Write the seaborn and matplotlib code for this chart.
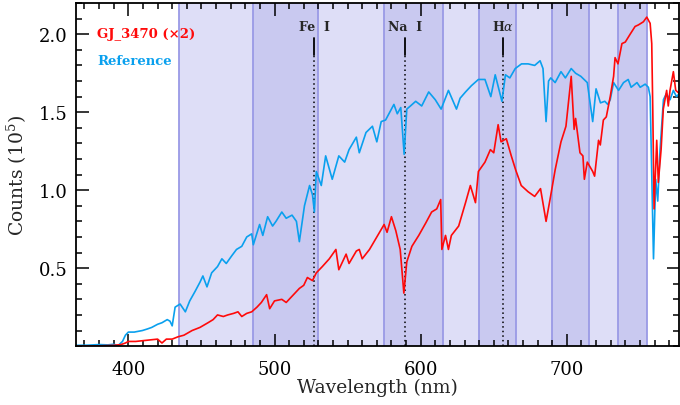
import matplotlib
matplotlib.use("Agg")
import matplotlib.pyplot as plt
from matplotlib.ticker import MultipleLocator
import pandas as pd
import seaborn as sns

# Reference spectrum (counts in units of 1e5)
ref_wl = [364, 372, 380, 386, 390, 393, 396, 398, 400, 404, 409.6, 413, 416, 420, 423,
          426.6, 428.5, 430, 432, 435.4, 439, 442, 445.6, 449, 451, 453.8, 457, 461, 464,
          467, 470.8, 474, 477.6, 481, 484.4, 485.5, 489.8, 492, 495.3, 498.7, 501, 505,
          508, 512, 515, 517, 520.5, 524, 526, 527.3, 528.6, 532, 535, 539.5, 544, 548,
          551, 556, 558, 562.6, 567, 570, 573, 576, 581.7, 584, 586.4, 588.7, 590.5, 593,
          596.6, 600.7, 605.5, 610, 614, 619, 624.5, 627, 630.7, 634.7, 639.5, 644, 648,
          651, 655.6, 658, 661, 664.7, 669, 673.5, 678, 681.7, 683.7, 685.8, 687.5, 689,
          692, 696, 699, 703, 706, 709.6, 714, 717.7, 720, 723, 726, 728, 729.7, 732,
          735.4, 738.8, 742, 744, 748, 750.2, 753.6, 755.8, 757, 759.3, 760.8, 762.2,
          763.8, 766.1, 768.1, 770.6, 772.9, 775, 777]
ref_counts = [0.005, 0.006, 0.01, 0.008, 0.012, 0.004, 0.03, 0.07, 0.09, 0.09, 0.10, 0.11,
              0.12, 0.14, 0.15, 0.17, 0.16, 0.13, 0.25, 0.27, 0.22, 0.29, 0.35, 0.41, 0.45,
              0.38, 0.47, 0.51, 0.56, 0.53, 0.58, 0.62, 0.64, 0.70, 0.72, 0.65, 0.78, 0.71,
              0.83, 0.77, 0.80, 0.86, 0.82, 0.84, 0.80, 0.67, 0.90, 1.03, 0.97, 0.86, 1.12,
              1.03, 1.22, 1.07, 1.22, 1.18, 1.26, 1.34, 1.24, 1.37, 1.41, 1.31, 1.44, 1.45,
              1.55, 1.49, 1.53, 1.23, 1.52, 1.54, 1.57, 1.54, 1.63, 1.58, 1.52, 1.64, 1.52,
              1.59, 1.63, 1.67, 1.71, 1.71, 1.60, 1.74, 1.57, 1.74, 1.72, 1.78, 1.81, 1.81,
              1.80, 1.83, 1.78, 1.44, 1.70, 1.72, 1.69, 1.76, 1.72, 1.78, 1.75, 1.73, 1.69,
              1.44, 1.65, 1.56, 1.57, 1.55, 1.58, 1.69, 1.64, 1.69, 1.71, 1.66, 1.69, 1.66,
              1.68, 1.66, 1.60, 0.56, 1.07, 0.93, 1.26, 1.58, 1.62, 1.58, 1.64, 1.60, 1.62]

# GJ_3470 spectrum, scaled x2
gj_wl = [364, 380, 390, 395, 398, 400, 405, 410, 415, 420, 423, 426, 430, 434, 438,
         443.6, 449, 454.5, 458, 461, 465, 468, 472, 475, 477.6, 481, 484.4, 488, 491,
         494.6, 496.7, 500, 505, 508, 512, 517, 520, 522.5, 526, 528.6, 532.7, 537.5,
         542, 544, 549, 551, 556, 558, 560, 565, 570, 575, 577, 580, 583, 586, 588.5,
         590.5, 594, 598.7, 603.5, 607.5, 611, 613.7, 614.5, 617, 619, 621, 626, 630.7,
         634, 637.5, 639.5, 644, 647.7, 650, 653, 655, 658.6, 662, 665, 668.8, 673.5,
         678, 682, 685.8, 688.5, 692, 696, 699.4, 703, 705, 706, 709, 711, 712, 714,
         717.7, 719, 721.7, 722.9, 725, 727, 729.7, 732, 733, 735, 737.7, 740, 743.3,
         746.7, 749, 752.4, 754.7, 757, 758.1, 758.8, 759.7, 761.5, 762.6, 764.5, 766,
         768.3, 769.4, 770.6, 772.9, 774.5, 777]
gj_counts = [0.0, 0.002, 0.005, 0.01, 0.02, 0.03, 0.03, 0.035, 0.04, 0.045, 0.02, 0.045,
             0.045, 0.06, 0.07, 0.10, 0.12, 0.15, 0.17, 0.20, 0.19, 0.20, 0.21, 0.22, 0.19,
             0.21, 0.22, 0.25, 0.28, 0.33, 0.24, 0.29, 0.30, 0.28, 0.32, 0.37, 0.39, 0.44,
             0.42, 0.47, 0.51, 0.56, 0.62, 0.49, 0.59, 0.53, 0.61, 0.62, 0.56, 0.62, 0.70,
             0.78, 0.73, 0.83, 0.74, 0.62, 0.34, 0.54, 0.64, 0.71, 0.79, 0.86, 0.88, 0.94,
             0.62, 0.71, 0.62, 0.71, 0.77, 0.92, 1.03, 0.92, 1.12, 1.18, 1.26, 1.24, 1.42,
             1.31, 1.33, 1.22, 1.13, 1.03, 0.99, 0.96, 1.01, 0.80, 0.94, 1.13, 1.31, 1.41,
             1.73, 1.39, 1.46, 1.24, 1.22, 1.07, 1.18, 1.12, 1.09, 1.32, 1.29, 1.45, 1.47,
             1.60, 1.73, 1.85, 1.81, 1.94, 1.95, 2.00, 2.05, 2.06, 2.08, 2.11, 2.07, 1.94,
             1.52, 0.88, 1.32, 1.05, 1.26, 1.52, 1.64, 1.54, 1.64, 1.76, 1.64, 1.62]

# filter bands (alternating shades) and line markers
band_edges = [435, 485, 530, 575, 615, 640, 665, 690, 715, 735, 755]
line_wl = [527.0, 589.0, 656.3]
line_labels = ["Fe  I", "Na  I", r"H$\alpha$"]

sns.set_style("ticks")
plt.rcParams["font.family"] = ["DejaVu Serif"]
plt.rcParams["mathtext.fontset"] = "dejavuserif"

fig = plt.figure(figsize=(6.8, 4.06), dpi=100)
ax = fig.add_axes([0.112, 0.145, 0.886, 0.845])

ymax = 2.2
light, dark, edge = "#dedef7", "#c9c9f0", "#9a9ae6"
for i in range(len(band_edges) - 1):
    ax.axvspan(band_edges[i], band_edges[i + 1], color=light if i % 2 == 0 else dark,
               lw=0, zorder=0)
for e in band_edges:
    ax.axvline(e, color=edge, lw=1.3, zorder=0.5)

for w, lab in zip(line_wl, line_labels):
    ax.axvline(w, ymin=0, ymax=1.868 / ymax, color="black", lw=1.1,
               ls=(0, (1, 2)), zorder=1)
    ax.axvline(w, ymin=1.868 / ymax, ymax=1.977 / ymax, color="black", lw=1.3, zorder=1)
    ax.text(w, 2.052, lab, ha="center", va="center", fontsize=9, fontweight="bold")

ref = pd.DataFrame({"wl": ref_wl, "counts": ref_counts})
gj = pd.DataFrame({"wl": gj_wl, "counts": gj_counts})
sns.lineplot(data=ref, x="wl", y="counts", color="#0aa0ee", lw=1.2, ax=ax, zorder=3)
sns.lineplot(data=gj, x="wl", y="counts", color="#ff0a0a", lw=1.2, ax=ax, zorder=4)

ax.set_xlim(364.3, 776.5)
ax.set_ylim(0, ymax)
ax.xaxis.set_major_locator(MultipleLocator(100))
ax.xaxis.set_minor_locator(MultipleLocator(10))
ax.set_yticks([0.5, 1.0, 1.5, 2.0])
ax.set_yticklabels(["0.5", "1.0", "1.5", "2.0"])
ax.yaxis.set_minor_locator(MultipleLocator(0.1))
ax.tick_params(which="both", direction="in", top=True, right=True, width=1.1,
               labelsize=13, colors="black")
ax.tick_params(which="major", length=9)
ax.tick_params(which="minor", length=4.5)
ax.tick_params(axis="x", pad=10)
ax.tick_params(axis="y", pad=6)
for s in ax.spines.values():
    s.set_linewidth(1.3)
    s.set_color("black")
    s.set_zorder(5)

ax.set_xlabel("Wavelength (nm)", fontsize=13.5, labelpad=0)
ax.set_ylabel(r"Counts (10$^5$)", fontsize=13.5, labelpad=7)

ax.text(0.035, 0.91, "GJ_3470 (\u00d72)", color="#ff0a0a", fontsize=9.5,
        fontweight="bold", transform=ax.transAxes, va="center", ha="left")
ax.text(0.035, 0.834, "Reference", color="#0aa0ee", fontsize=9.5,
        fontweight="bold", transform=ax.transAxes, va="center", ha="left")

fig.savefig("out.png", dpi=100)
